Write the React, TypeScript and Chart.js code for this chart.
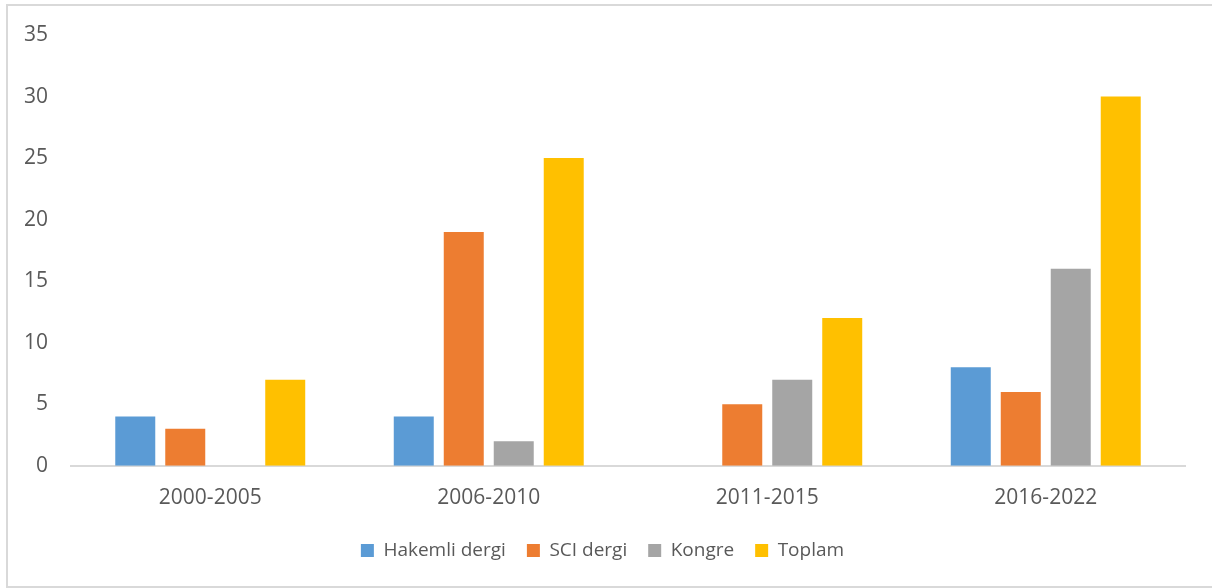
import React, { useEffect, useRef } from "react";
import { Chart, registerables } from "chart.js";

Chart.register(...registerables);

const categories = ["2000-2005", "2006-2010", "2011-2015", "2016-2022"];
const hakemliDergi = [4, 4, 0, 8];
const sciDergi = [3, 19, 5, 6];
const kongre = [0, 2, 7, 16];
const toplam = [7, 25, 12, 30];
const yTicks = [0, 5, 10, 15, 20, 25, 30, 35];

const seriesNames = ["Hakemli dergi", "SCI dergi", "Kongre", "Toplam"];
const seriesColors = ["#5B9BD5", "#ED7D31", "#A5A5A5", "#FFC000"];

const FONT = "'Open Sans', 'Noto Sans', sans-serif";
const TEXT_COLOR = "#595959";

const borderPlugin = {
  id: "outerBorder",
  beforeDraw(chart: any) {
    const ctx = chart.ctx;
    ctx.save();
    ctx.fillStyle = "#ffffff";
    ctx.fillRect(0, 0, chart.width, chart.height);
    ctx.strokeStyle = "#d9d9d9";
    ctx.lineWidth = 2;
    ctx.strokeRect(7, 5, chart.width + 20, 582);
    ctx.restore();
  },
};

export default function App() {
  const canvasRef = useRef<HTMLCanvasElement | null>(null);

  useEffect(() => {
    if (!canvasRef.current) return;
    const data = [hakemliDergi, sciDergi, kongre, toplam];
    const chart = new Chart(canvasRef.current, {
      type: "bar",
      data: {
        labels: categories,
        datasets: seriesNames.map((name, i) => ({
          label: name,
          data: data[i],
          backgroundColor: seriesColors[i],
          borderWidth: 0,
          categoryPercentage: 0.718,
          barPercentage: 0.8,
        })),
      },
      options: {
        responsive: false,
        animation: false,
        devicePixelRatio: 1,
        layout: { padding: { left: 20, right: 27, top: 35, bottom: 18 } },
        plugins: {
          tooltip: { enabled: false },
          legend: {
            position: "bottom",
            labels: {
              boxWidth: 13,
              boxHeight: 13,
              padding: 21,
              color: TEXT_COLOR,
              font: { family: FONT, size: 19 },
            },
          },
        },
        scales: {
          x: {
            grid: { display: false },
            border: { display: true, color: "#d9d9d9", width: 2 },
            ticks: {
              color: TEXT_COLOR,
              font: { family: FONT, size: 21 },
              padding: 12,
            },
            afterFit: (scale: any) => {
              scale.height = scale.height - 3;
            },
          },
          y: {
            min: 0,
            max: 35,
            afterBuildTicks: (scale: any) => {
              scale.ticks = yTicks.map((v) => ({ value: v }));
            },
            grid: { display: false },
            border: { display: false },
            ticks: {
              color: TEXT_COLOR,
              font: { family: FONT, size: 21 },
              padding: 15,
            },
            afterFit: (scale: any) => {
              scale.width = 51;
            },
          },
        },
      },
      plugins: [borderPlugin],
    });
    return () => chart.destroy();
  }, []);

  return (
    <div style={{ position: "fixed", left: 0, top: 0, width: 1212, height: 588 }}>
      <canvas ref={canvasRef} width={1212} height={588} style={{ display: "block" }} />
    </div>
  );
}
